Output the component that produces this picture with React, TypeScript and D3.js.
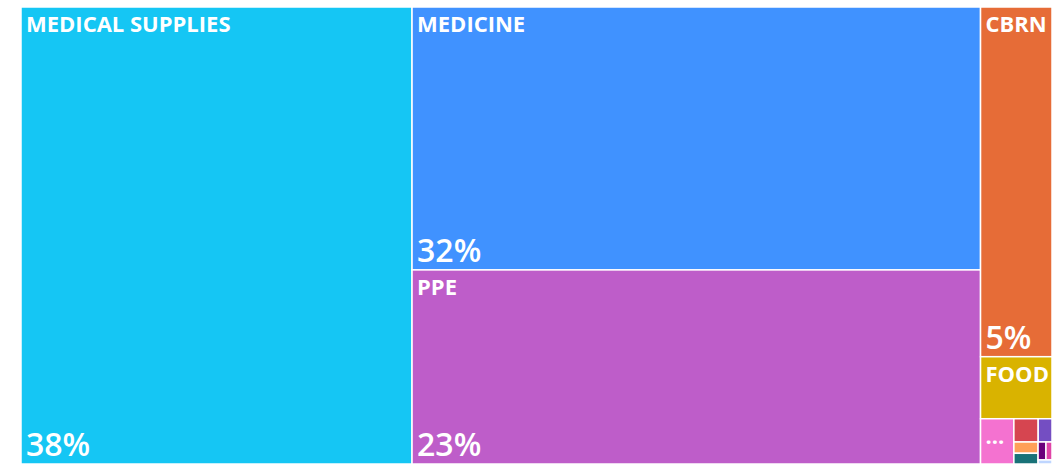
import React from 'react';
import * as d3 from 'd3';

const categories = ['MEDICAL SUPPLIES', 'MEDICINE', 'PPE', 'CBRN', 'FOOD', 'SHELTER', 'WATER', 'HYGIENE', 'TESTING', 'FUEL', 'COMMS', 'SANITATION', 'OTHER'];
const shares = [37.9, 31.7, 23.4, 5.3, 0.94, 0.32, 0.12, 0.068, 0.058, 0.055, 0.03, 0.023, 0.012];
const colors = ['#15C6F4', '#4092FF', '#BE5DC9', '#E66C37', '#D9B300', '#F472D0', '#D64550', '#744EC2', '#FFA058', '#197278', '#6B007B', '#E044A7', '#BFD6FF'];

// how the cells are grouped: 'x' splits left to right, 'y' top to bottom
const groups: any = ['x', 0, ['y', 1, 2], ['y', 3, 4, ['x', 5, ['y', ['x', 6, 7], ['x', ['y', 8, 9], ['y', ['x', 10, 11], 12]]]]]];

const left = 21;
const top = 7;
const width = 1031;
const height = 457;
const font = '"Open Sans", "Segoe UI", sans-serif';

function build(spec: any): any {
  if (typeof spec === 'number') {
    return { name: categories[spec], value: shares[spec], color: colors[spec] };
  }
  return { dir: spec[0], children: spec.slice(1).map(build) };
}

export default function App() {
  const root = d3.hierarchy(build(groups)).sum((d: any) => d.value || 0);
  const total = d3.sum(shares);

  d3.treemap()
    .size([width, height])
    .tile((node: any, x0, y0, x1, y1) => {
      (node.data.dir === 'x' ? d3.treemapDice : d3.treemapSlice)(node, x0, y0, x1, y1);
    })(root as any);

  const leaves: any[] = root.leaves();

  return (
    <div style={{ position: 'absolute', left: 0, top: 0 }}>
      <svg width={1063} height={464} style={{ display: 'block' }}>
        <g transform={`translate(${left}, ${top})`}>
          {leaves.map((d) => {
            const w = d.x1 - d.x0;
            const h = d.y1 - d.y0;
            const showName = w > 28 && h > 30;
            const name = w < 60 ? '...' : d.data.name;
            const showPct = h > 70 && w > 50;
            return (
              <g key={d.data.name}>
                <rect x={d.x0} y={d.y0} width={w} height={h} fill={d.data.color} stroke="#fff" strokeWidth={1.5} />
                {showName && (
                  <text x={d.x0 + 5} y={d.y0 + 25} fill="#fff" fontFamily={font} fontWeight={700} fontSize={22}>
                    {name}
                  </text>
                )}
                {showPct && (
                  <text x={d.x0 + 5} y={d.y1 - 8} fill="#fff" fontFamily={font} fontWeight={600} fontSize={32}>
                    {Math.round((d.data.value / total) * 100) + '%'}
                  </text>
                )}
              </g>
            );
          })}
        </g>
      </svg>
    </div>
  );
}
